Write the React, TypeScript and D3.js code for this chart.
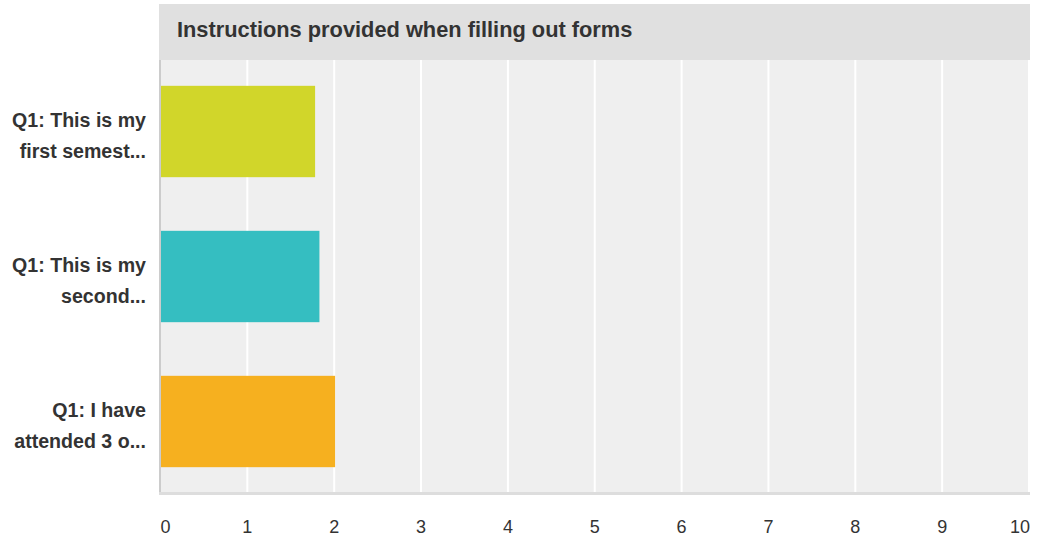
import { useRef, useEffect } from 'react';
import * as d3 from 'd3';

const title = 'Instructions provided when filling out forms';
const categories = ['Q1: This is my first semest...', 'Q1: This is my second...', 'Q1: I have attended 3 o...'];
const labelLines = [
  ['Q1: This is my', 'first semest...'],
  ['Q1: This is my', 'second...'],
  ['Q1: I have', 'attended 3 o...'],
];
const values = [1.78, 1.83, 2.01];
const colors = ['#d1d62a', '#35bec1', '#f6b01f'];
const ticks = [0, 1, 2, 3, 4, 5, 6, 7, 8, 9, 10];

const width = 1037;
const height = 541;

export default function App() {
  const svgRef = useRef<SVGSVGElement>(null);

  useEffect(() => {
    if (!svgRef.current) return;
    const svg = d3.select(svgRef.current);
    svg.selectAll('*').remove();

    const left = 160.5;
    const right = 1029;
    const top = 60;
    const bottom = 493;
    const font = "'Liberation Sans', Arial, sans-serif";

    const x = d3.scaleLinear().domain([0, 10]).range([left, right]);
    const y = d3.scaleBand().domain(categories).range([59, 494]).paddingInner(0.37).paddingOuter(0.185);

    // Header
    svg.append('rect')
      .attr('x', 159).attr('y', 4)
      .attr('width', 871).attr('height', top - 4)
      .attr('fill', '#e0e0e0');
    svg.append('text')
      .attr('x', 177).attr('y', 37)
      .attr('font-family', font)
      .attr('font-size', 21.8)
      .attr('font-weight', 'bold')
      .attr('fill', '#333')
      .text(title);

    // Plot background
    svg.append('rect')
      .attr('x', 159).attr('y', top)
      .attr('width', 871).attr('height', bottom - top)
      .attr('fill', '#efefef');

    // Grid
    svg.append('g')
      .selectAll('line')
      .data(ticks.slice(1))
      .join('line')
      .attr('x1', (d) => x(d)).attr('x2', (d) => x(d))
      .attr('y1', top).attr('y2', bottom)
      .attr('stroke', '#ffffff')
      .attr('stroke-width', 2);

    // Bars
    svg.append('g')
      .selectAll('rect')
      .data(values)
      .join('rect')
      .attr('x', x(0))
      .attr('y', (_, i) => y(categories[i]) as number)
      .attr('width', (d) => x(d) - x(0))
      .attr('height', y.bandwidth())
      .attr('fill', (_, i) => colors[i]);

    // Axis lines
    svg.append('line')
      .attr('x1', 160).attr('x2', 160)
      .attr('y1', top).attr('y2', bottom + 1)
      .attr('stroke', '#cccccc')
      .attr('stroke-width', 2);
    svg.append('line')
      .attr('x1', 159).attr('x2', 1030)
      .attr('y1', bottom + 0.5).attr('y2', bottom + 0.5)
      .attr('stroke', '#dddddd')
      .attr('stroke-width', 3);

    // X tick labels
    svg.append('g')
      .selectAll('text')
      .data(ticks)
      .join('text')
      .attr('x', (d) => x(d) + (d === 0 ? 5 : d === 10 ? -9 : 0))
      .attr('y', 533)
      .attr('text-anchor', 'middle')
      .attr('font-family', font)
      .attr('font-size', 18)
      .attr('fill', '#333')
      .text((d) => String(d));

    // Category labels
    const lab = svg.append('g')
      .selectAll('text')
      .data(categories)
      .join('text')
      .attr('text-anchor', 'end')
      .attr('font-family', font)
      .attr('font-size', 19.6)
      .attr('font-weight', 'bold')
      .attr('fill', '#333');
    lab.each(function (d, i) {
      const cy = (y(d) as number) + y.bandwidth() / 2;
      d3.select(this)
        .selectAll('tspan')
        .data(labelLines[i])
        .join('tspan')
        .attr('x', 146)
        .attr('y', (_, j) => cy - 5 + j * 31)
        .text((t) => t);
    });
  }, []);

  return (
    <svg
      ref={svgRef}
      width={width}
      height={height}
      style={{ position: 'absolute', left: 0, top: 0, display: 'block', background: '#fff' }}
    />
  );
}
